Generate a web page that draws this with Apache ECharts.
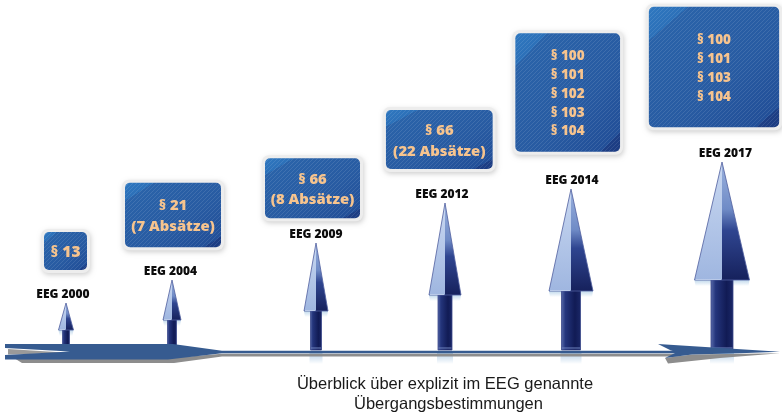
<!DOCTYPE html>
<html><head><meta charset="utf-8">
<script src="https://cdn.jsdelivr.net/npm/echarts@6/dist/echarts.min.js"></script>
<style>html,body{margin:0;padding:0;background:#fff}#c{width:782px;height:415px}</style>
</head><body><div id="c"></div>
<script>
// ---------- data ----------
const editions = ['EEG 2000', 'EEG 2004', 'EEG 2009', 'EEG 2012', 'EEG 2014', 'EEG 2017'];
const timelinePosition = [66, 172, 316, 445, 571, 722];
const arrowHeight = [47, 70, 107, 147, 161, 188];
const paragraphs = [
  ['§ 13'],
  ['§ 21', '(7 Absätze)'],
  ['§ 66', '(8 Absätze)'],
  ['§ 66', '(22 Absätze)'],
  ['§ 100', '§ 101', '§ 102', '§ 103', '§ 104'],
  ['§ 100', '§ 101', '§ 103', '§ 104']
];
const caption = ['Überblick über explizit im EEG genannte', 'Übergangsbestimmungen'];

// ---------- layout (pixels) ----------
const arrowLayout = [
  {head: 15, shaft: 7, headLen: 27, labelDx: -3},
  {head: 18, shaft: 9, headLen: 40, labelDx: -1.5},
  {head: 24, shaft: 11, headLen: 68, labelDx: 0},
  {head: 32, shaft: 14, headLen: 92, labelDx: -3},
  {head: 44, shaft: 19, headLen: 102, labelDx: 1},
  {head: 55, shaft: 22, headLen: 118, labelDx: 3.5}
];
const boxLayout = [
  {cx: 65.5, w: 43, bottom: 80, top: 118, font: 15.5, lh: 0},
  {cx: 173, w: 96, bottom: 102.7, top: 167.3, font: 14.8, lh: 20.7},
  {cx: 312.5, w: 95, bottom: 131.7, top: 191.7, font: 14.8, lh: 20.7},
  {cx: 439.3, w: 106.7, bottom: 181, top: 240, font: 14.8, lh: 20.7},
  {cx: 567.7, w: 104.7, bottom: 198.3, top: 316.7, font: 13.5, lh: 18.7},
  {cx: 714, w: 130.3, bottom: 222.7, top: 343.3, font: 13.5, lh: 18.8}
];

const LG = echarts.graphic.LinearGradient;

// stripe texture for the boxes
const stripe = document.createElement('canvas');
stripe.width = 4; stripe.height = 4;
(function () {
  const c = stripe.getContext('2d');
  c.strokeStyle = 'rgba(255,255,255,0.10)';
  c.lineWidth = 1;
  [[0, 4, 4, 0], [-1, 1, 1, -1], [3, 5, 5, 3]].forEach(function (s) {
    c.beginPath(); c.moveTo(s[0], s[1]); c.lineTo(s[2], s[3]); c.stroke();
  });
})();

function renderArrow(params, api) {
  const i = params.dataIndex;
  const L = arrowLayout[i];
  const x = api.value(0), h = api.value(1);
  const tip = api.coord([x, h]);
  const base = api.coord([x, 0]);
  const hb = api.coord([x, h - L.headLen])[1];
  const cx = tip[0];
  const hw = L.head / 2, sw = L.shaft / 2;
  return {
    type: 'group',
    children: [
      {type: 'rect', shape: {x: cx - sw - 1, y: base[1] + 2, width: 2 * sw + 2, height: 12},
        style: {fill: new LG(0, 0, 0, 1, [{offset: 0, color: 'rgba(130,175,215,0.6)'}, {offset: 1, color: 'rgba(130,175,215,0)'}])}},
      {type: 'polygon', shape: {points: [[cx - hw, hb], [cx + hw, hb], [cx + hw - 1, hb + 6], [cx - hw + 1, hb + 6]]},
        style: {fill: new LG(0, 0, 0, 1, [{offset: 0, color: 'rgba(140,185,220,0.55)'}, {offset: 1, color: 'rgba(140,185,220,0)'}])}},
      {type: 'rect', shape: {x: cx - sw, y: hb - 1, width: 2 * sw, height: base[1] - hb + 1},
        style: {fill: new LG(0, 0, 1, 0, [
          {offset: 0, color: '#5a6cab'}, {offset: 0.22, color: '#24357c'},
          {offset: 0.7, color: '#111b55'}, {offset: 1, color: '#1b2868'}]),
          stroke: '#3a4889', lineWidth: 0.8}},
      {type: 'rect', shape: {x: cx - sw + 0.5, y: base[1] - 3, width: 2 * sw - 1, height: 2},
        style: {fill: 'rgba(110,130,190,0.5)'}},
      {type: 'polygon', shape: {points: [[cx, tip[1]], [cx, hb], [cx - hw, hb]]},
        style: {fill: new LG(0, 0, 0, 1, [{offset: 0, color: '#c9d8f1'}, {offset: 1, color: '#9fb6e0'}])}},
      {type: 'polygon', shape: {points: [[cx, tip[1]], [cx + hw, hb], [cx, hb]]},
        style: {fill: new LG(0, 0, 0, 1, [
          {offset: 0, color: '#9bb2de'}, {offset: 0.4, color: '#6f8bc6'},
          {offset: 0.58, color: '#2f4590'}, {offset: 1, color: '#16215c'}])}},
      {type: 'polygon', shape: {points: [[cx, tip[1]], [cx + hw, hb], [cx - hw, hb]]},
        style: {fill: 'none', stroke: '#4f5e9e', lineWidth: 0.8}},
      {type: 'line', shape: {x1: cx - hw + 1, y1: hb - 0.5, x2: cx - 1, y2: hb - 0.5},
        style: {stroke: 'rgba(200,215,240,0.8)', lineWidth: 1}}
    ]
  };
}

function renderLabel(params, api) {
  const i = params.dataIndex;
  const tip = api.coord([api.value(0), api.value(1)]);
  return {
    type: 'text', x: tip[0] + arrowLayout[i].labelDx, y: tip[1] - 8.5,
    style: {text: editions[i], fill: '#0d0d0d', font: '800 12px "Open Sans"', align: 'center', verticalAlign: 'middle'}
  };
}

function renderBox(params, api) {
  const i = params.dataIndex;
  const B = boxLayout[i];
  const p0 = api.coord([B.cx - B.w / 2, B.top]);
  const p1 = api.coord([B.cx + B.w / 2, B.bottom]);
  const x0 = p0[0], y0 = p0[1], w = p1[0] - p0[0], h = p1[1] - p0[1];
  const tw = Math.min(0.3 * w, 40), th = Math.min(0.28 * h, 34);
  const nl = Math.sqrt(tw * tw + th * th);
  const nx = th / nl, ny = tw / nl;
  const D = w * nx + h * ny;
  const d = tw * th / nl;
  const t = d / D;
  const grad = new LG(x0, y0, x0 + nx * D, y0 + ny * D, [
    {offset: 0, color: '#2f78c0'}, {offset: t, color: '#2c70b8'},
    {offset: t + 0.001, color: '#2a63a9'}, {offset: 0.6, color: '#285ba2'},
    {offset: 1 - t * 0.6, color: '#224f98'}, {offset: 1 - t * 0.6 + 0.001, color: '#1d3f86'},
    {offset: 1, color: '#1b3a80'}], true);
  const children = [
    {type: 'rect', shape: {x: x0 - 3, y: y0 - 3, width: w + 6, height: h + 6, r: 7},
      style: {fill: '#ededed', shadowBlur: 5, shadowColor: 'rgba(0,0,0,0.18)', shadowOffsetX: 1, shadowOffsetY: 2}},
    {type: 'rect', shape: {x: x0, y: y0, width: w, height: h, r: 5}, style: {fill: grad}},
    {type: 'rect', shape: {x: x0, y: y0, width: w, height: h, r: 5}, style: {fill: {image: stripe, repeat: 'repeat'}}}
  ];
  const lines = paragraphs[i];
  const n = lines.length;
  lines.forEach(function (txt, k) {
    children.push({
      type: 'text', x: x0 + w / 2, y: y0 + h / 2 + 1.5 + (k - (n - 1) / 2) * B.lh,
      style: {text: txt, fill: '#f7c48e', font: '800 ' + B.font + 'px "Open Sans"', align: 'center', verticalAlign: 'middle'}
    });
  });
  return {type: 'group', children: children};
}

function renderTimeline(params, api) {
  const pts = function (arr) {
    return arr.map(function (p) { const c = api.coord([p[0], 0]); return [c[0], c[1] + p[1]]; });
  };
  const gray = '#8d8d8d', blue = '#365b90';
  return {
    type: 'group',
    children: [
      {type: 'polygon', shape: {points: pts([[14, 8], [170, 8], [222, 3.8], [680, 3.8], [680, 6.5], [222, 6.5], [174, 13], [22, 13]])}, style: {fill: gray}},
      {type: 'polygon', shape: {points: pts([[8, -1], [72, 3], [8, 4.5]])}, style: {fill: '#9a9a9a'}},
      {type: 'polygon', shape: {points: pts([[5, -6], [173, -6], [222, 0.7], [680, 0.7], [680, 3.3], [222, 3.3], [168, 9.5], [5, 9.5], [5, 5], [70, 1.5], [5, -2]])}, style: {fill: blue}},
      {type: 'polygon', shape: {points: pts([[665, 8], [692, 4.5], [780, 3.2], [720, 8], [668, 13.5]])}, style: {fill: gray}},
      {type: 'polygon', shape: {points: pts([[658, -6], [780, 1.7], [740, 3.2], [692, 4.5], [665, 8], [677, 2], [671, 0.5]])}, style: {fill: blue}}
    ]
  };
}

const chart = echarts.init(document.getElementById('c'), null, {renderer: 'canvas'});
const arrowData = timelinePosition.map(function (x, i) { return [x, arrowHeight[i]]; });
chart.setOption({
  animation: false,
  backgroundColor: '#fff',
  grid: {left: 0, right: 0, top: 0, bottom: 65},
  xAxis: {type: 'value', min: 0, max: 782, show: false},
  yAxis: {type: 'value', min: 0, max: 350, show: false},
  graphic: [
    {type: 'text', x: 445, y: 384, z: 10,
      style: {text: caption[0], fill: '#1a1a1a', font: '16.5px "Liberation Sans"', align: 'center', verticalAlign: 'middle'}},
    {type: 'text', x: 448.5, y: 404.5, z: 10,
      style: {text: caption[1], fill: '#1a1a1a', font: '16.5px "Liberation Sans"', align: 'center', verticalAlign: 'middle'}}
  ],
  series: [
    {type: 'custom', name: 'arrows', renderItem: renderArrow, data: arrowData, z: 2, silent: true},
    {type: 'custom', name: 'timeline', renderItem: renderTimeline, data: [[0, 0]], z: 3, silent: true},
    {type: 'custom', name: 'labels', renderItem: renderLabel, data: arrowData, z: 4, silent: true},
    {type: 'custom', name: 'boxes', renderItem: renderBox, data: arrowData, z: 4, silent: true}
  ]
});
</script></body></html>
